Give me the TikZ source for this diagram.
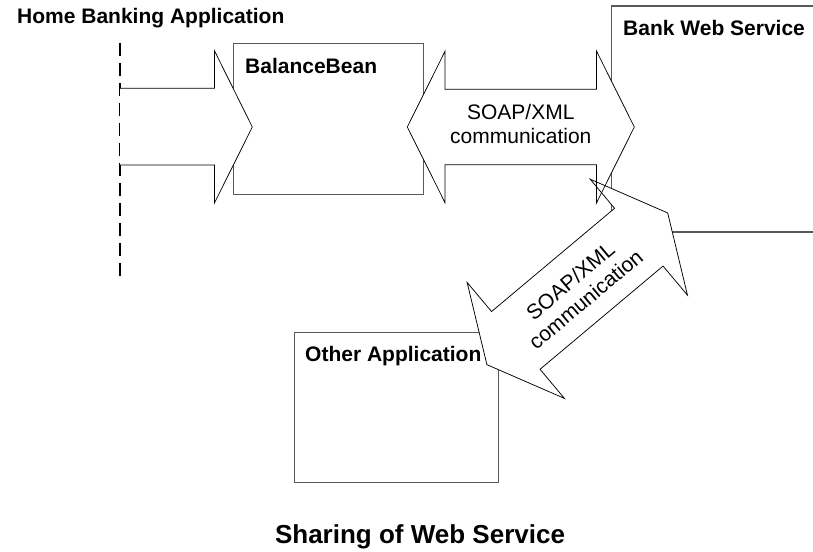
\documentclass[tikz,border=0pt]{standalone}
\usepackage{fontspec}
\setmainfont{Liberation Sans}
\begin{document}
\begin{tikzpicture}[x=1pt,y=1pt,
  boxline/.style={draw=black!65, line width=1.1pt, rectangle, inner sep=0pt},
  arrowline/.style={draw=black, line width=0.75pt, line join=miter},
  lifeline/.style={draw=black, line width=1.3pt, dash pattern=on 13pt off 7pt},
  boldlabel/.style={font=\bfseries\fontsize{21}{24}\selectfont, inner sep=0pt, anchor=base west},
  arrowlabel/.style={font=\fontsize{21}{24}\selectfont, align=center, inner sep=0pt},
  titlelabel/.style={font=\bfseries\fontsize{26}{30}\selectfont, inner sep=0pt, anchor=base},
  % wide double-headed arrow centred on the origin, half length #1
  dblarrow/.style={insert path={(-#1,0) -- (-#1+37.7,75.7) -- (-#1+37.7,37.7)
      -- (#1-37.7,37.7) -- (#1-37.7,75.7) -- (#1,0) -- (#1-37.7,-75.7)
      -- (#1-37.7,-37.7) -- (-#1+37.7,-37.7) -- (-#1+37.7,-75.7) -- cycle}},
]
\useasboundingbox (0,0) rectangle (813,-551);

% application boxes
\node[boxline, anchor=north west, minimum width=189.4pt, minimum height=151pt] (bean) at (233.3,-43.3) {};
\node[boxline, anchor=north west, minimum width=204.3pt, minimum height=150.6pt] (other) at (294,-331.7) {};
% the web service box runs off the right edge
\coordinate (bwsTR) at (813,-6);
\coordinate (bwsTL) at (611.7,-6);
\coordinate (bwsBL) at (611.7,-232);
\coordinate (bwsBR) at (813,-232);
\draw[draw=black!65, line width=1.1pt] (bwsTR) -- (bwsTL) -- (bwsBL) -- (bwsBR);

% lifeline of the home banking application
\coordinate (lifetop) at (120,-43);
\coordinate (lifebot) at (120,-283);
\draw[lifeline] (lifetop) -- (lifebot);

% call arrow into the bean
\fill[white] (120,-88.3) -- (214.6,-88.3) -- (214.6,-51) -- (252.3,-127)
  -- (214.6,-202.7) -- (214.6,-165) -- (120,-165) -- cycle;

% SOAP/XML double arrows: white fills first, outlines afterwards
\begin{scope}[shift={(520.8,-127)}]
  \fill[white, dblarrow=113.5];
\end{scope}
\begin{scope}[shift={(577.3,-288.8)}, rotate=40]
  \fill[white, dblarrow=118];
\end{scope}

\draw[arrowline] (120,-88.3) -- (214.6,-88.3) -- (214.6,-51) -- (252.3,-127)
  -- (214.6,-202.7) -- (214.6,-165) -- (120,-165);
\begin{scope}[shift={(520.8,-127)}]
  \draw[arrowline, dblarrow=113.5];
\end{scope}
\begin{scope}[shift={(577.3,-288.8)}, rotate=40]
  \draw[arrowline, dblarrow=118];
\end{scope}

% labels
\node[boldlabel] (homelbl) at (17,-24) {Home Banking Application};
\node[boldlabel] (beanlbl) at (245,-74) {BalanceBean};
\node[boldlabel] (bwslbl) at (623,-36) {Bank Web Service};
\node[boldlabel] (otherlbl) at (305,-361) {Other Application};
\node[arrowlabel] (soap1) at (520.8,-124) {SOAP/XML\\communication};
\node[arrowlabel, rotate=40] (soap2) at (578,-290) {SOAP/XML\\communication};
\node[titlelabel] (title) at (420,-543.3) {Sharing of Web Service};
\end{tikzpicture}
\end{document}
